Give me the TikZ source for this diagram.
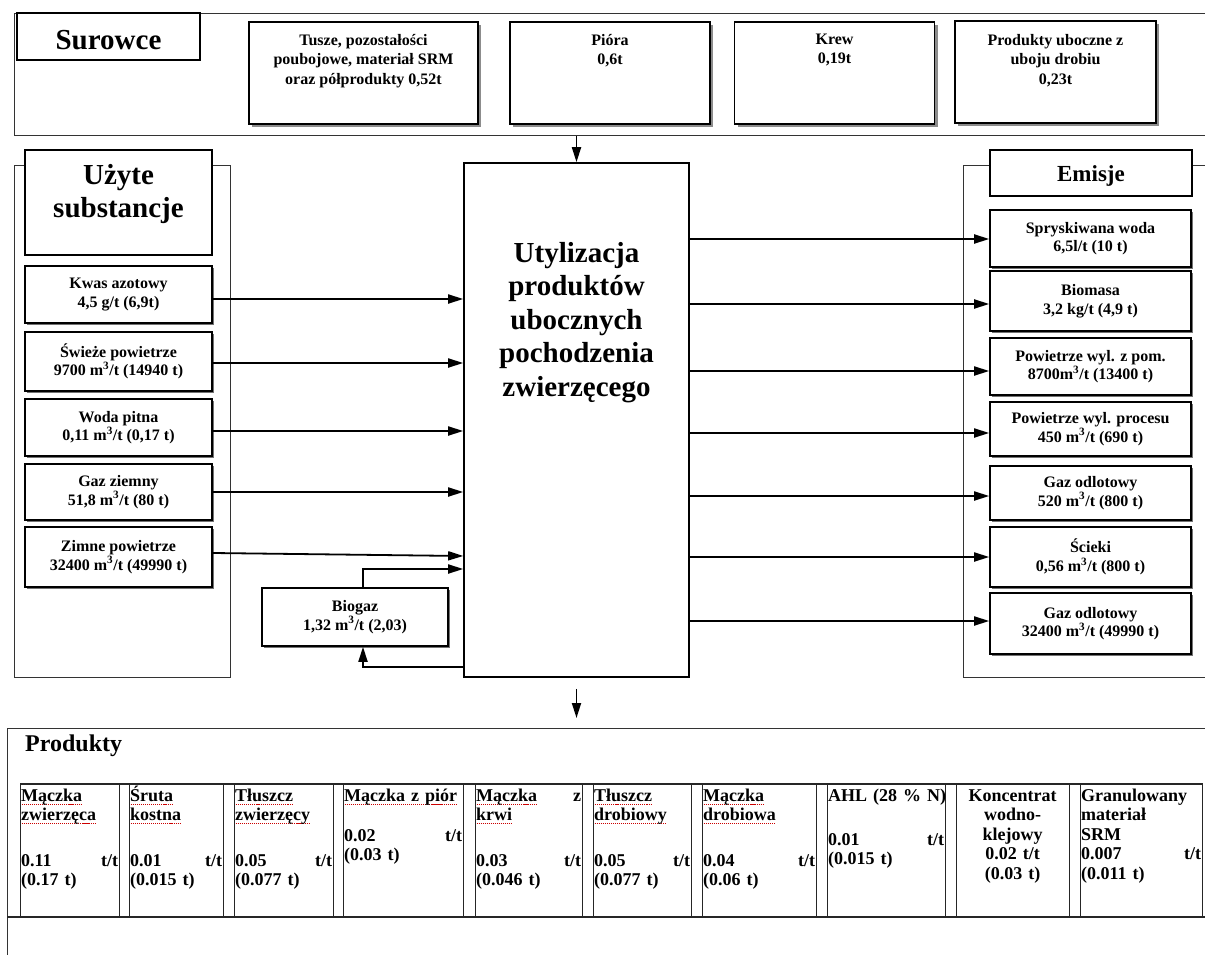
\documentclass[tikz,border=0pt]{standalone}
\usepackage{fontspec}
\setmainfont{Liberation Serif}
\usetikzlibrary{arrows.meta,shadows}

\newcommand\fs[2]{\fontsize{#1}{#2}\selectfont\bfseries}
% red dotted spell-check underline
\newsavebox\spellbox
\newcommand\spell[1]{\leavevmode\sbox\spellbox{#1}\rlap{\color{red!80!black}\raisebox{-3.5pt}{\hbox to\wd\spellbox{\xleaders\hbox to 2pt{\hss\rule{1.1pt}{1pt}\hss}\hfill}}}\usebox\spellbox}
\newcommand\msup{m\textsuperscript{3}}

\begin{document}
\begin{tikzpicture}[x=1pt,y=-1pt,
  panel/.style={draw=black!80,line width=1.4pt,inner sep=0pt},
  box/.style={draw=black,line width=1.6pt,fill=white,inner sep=0pt,align=center,font=\fs{16}{18.5}},
  sbox/.style={box,drop shadow={shadow xshift=1.5pt,shadow yshift=-1.5pt,fill=black!55,opacity=1}},
  topbox/.style={box,minimum height=102pt,drop shadow={shadow xshift=3pt,shadow yshift=-3pt,fill=black!45,opacity=1}},
  txt/.style={inner sep=0pt,align=center},
  arr/.style={line width=1.8pt,-{Triangle[length=15pt,width=9pt]}},
  cell/.style={draw=black!85,line width=1.2pt,inner sep=0pt,minimum height=133pt,anchor=north west},
  celltext/.style={inner sep=0pt,anchor=north west,align=left,font=\fs{18}{19.5},execute at begin node=\strut},
]
\useasboundingbox (0,0) rectangle (1205,955);
\fill[white] (0,0) rectangle (1205,955);

% ---------- raw materials band ----------
\node[panel,anchor=north west,minimum width=1220pt,minimum height=122pt] (band) at (14,13) {};
\node[box,minimum width=183pt,minimum height=47pt] (surowce) at (108.5,36.5) {};
\node[txt,anchor=base,font=\fs{29}{34}] (surowcet) at (surowce.center |- 0,50) {Surowce};

\node[topbox,minimum width=229pt] (tusze) at (363.5,73) {};
\node[txt,anchor=north,font=\fs{16}{19.5},execute at begin node=\strut] (tuszet) at ([yshift=-12.5pt]tusze.north)
  {Tusze, pozostałości\\poubojowe, materiał SRM\\oraz półprodukty 0,52t};
\node[topbox,minimum width=200pt] (piora) at (610,73) {};
\node[txt,anchor=north,font=\fs{16}{19.5},execute at begin node=\strut] (pi orat) at ([yshift=-12.5pt]piora.north) {Pióra\\0,6t};
\node[topbox,minimum width=200pt] (krew) at (834.5,73) {};
\node[txt,anchor=north,font=\fs{16}{19.5},execute at begin node=\strut] (krewt) at ([yshift=-12.5pt]krew.north) {Krew\\0,19t};
\node[topbox,minimum width=201pt] (drob) at (1055.5,72) {};
\node[txt,anchor=north,font=\fs{16}{19.5},execute at begin node=\strut] (drobt) at ([yshift=-13.5pt]drob.north)
  {Produkty uboczne z\\uboju drobiu\\0,23t};

% ---------- substances panel ----------
\node[panel,anchor=north west,minimum width=216pt,minimum height=512pt] (leftp) at (14,165) {};
\node[box,minimum width=187pt,minimum height=105pt] (uzyte) at (118.5,202.5) {};
\node[txt,anchor=north,font=\fs{29}{33},execute at begin node=\strut] (uzytet) at (uzyte.north |- 0,164) {Użyte\\substancje};

\node[sbox,minimum width=187pt,minimum height=57pt] (kwas) at (118.5,294.5) {Kwas azotowy\\4,5 g/t (6,9t)};
\node[sbox,minimum width=187pt,minimum height=59pt] (swieze) at (118.5,361.5) {Świeże powietrze\\9700 \msup/t (14940 t)};
\node[sbox,minimum width=187pt,minimum height=57pt] (woda) at (118.5,427.5) {Woda pitna\\0,11 \msup/t (0,17 t)};
\node[sbox,minimum width=187pt,minimum height=56pt] (gaz) at (118.5,492) {Gaz ziemny\\51,8 \msup/t (80 t)};
\node[sbox,minimum width=187pt,minimum height=60pt] (zimne) at (118.5,557) {Zimne powietrze\\32400 \msup/t (49990 t)};
\node[sbox,minimum width=186pt,minimum height=58pt] (biogaz) at (355,617) {Biogaz\\1,32 \msup/t (2,03)};

% ---------- process ----------
\node[box,minimum width=225pt,minimum height=514pt] (util) at (576.5,420) {};
\node[txt,anchor=north,font=\fs{29}{33.5},execute at begin node=\strut] (utilt) at (util.north |- 0,242)
  {Utylizacja\\produktów\\ubocznych\\pochodzenia\\zwierzęcego};

% ---------- emissions panel ----------
\node[panel,anchor=north west,minimum width=260pt,minimum height=512pt] (rightp) at (963,165) {};
\node[box,minimum width=202pt,minimum height=46pt] (emisje) at (1091,173) {};
\node[txt,anchor=base,font=\fs{23}{27}] (emisjet) at (emisje.center |- 0,182) {Emisje};

\node[sbox,minimum width=201pt,minimum height=57pt] (spry) at (1090.5,238.5) {Spryskiwana woda\\6,5l/t (10 t)};
\node[sbox,minimum width=201pt,minimum height=60pt] (biom) at (1090.5,301) {Biomasa\\3,2 kg/t (4,9 t)};
\node[sbox,minimum width=201pt,minimum height=57pt] (pzp) at (1090.5,366.5) {Powietrze wyl. z pom.\\8700\msup/t (13400 t)};
\node[sbox,minimum width=201pt,minimum height=54pt] (pwp) at (1090.5,429) {Powietrze wyl. procesu\\450 \msup/t (690 t)};
\node[sbox,minimum width=201pt,minimum height=54pt] (godla) at (1090.5,493) {Gaz odlotowy\\520 \msup/t (800 t)};
\node[sbox,minimum width=201pt,minimum height=60pt] (scieki) at (1090.5,557) {Ścieki\\0,56 \msup/t (800 t)};
\node[sbox,minimum width=201pt,minimum height=61pt] (godlb) at (1090.5,623.5) {Gaz odlotowy\\32400 \msup/t (49990 t)};

% ---------- flows ----------
\draw[arr] (util.north |- band.south) -- (util.north);
\draw[arr] (kwas.east |- 0,299) -- (util.west |- 0,299);
\draw[arr] (swieze.east |- 0,363) -- (util.west |- 0,363);
\draw[arr] (woda.east |- 0,431) -- (util.west |- 0,431);
\draw[arr] (gaz.east |- 0,492) -- (util.west |- 0,492);
\draw[arr] ([yshift=4pt]zimne.east) -- (util.west |- 0,556);
\draw[arr] ([xshift=8pt]biogaz.north) |- (util.west |- 0,569);
\draw[arr] (util.west |- 0,667) -| ([xshift=8pt]biogaz.south);

\draw[arr] (util.east |- 0,239) -- (spry.west |- 0,239);
\draw[arr] (util.east |- 0,304) -- (biom.west |- 0,304);
\draw[arr] (util.east |- 0,371) -- (pzp.west |- 0,371);
\draw[arr] (util.east |- 0,433) -- (pwp.west |- 0,433);
\draw[arr] (util.east |- 0,496) -- (godla.west |- 0,496);
\draw[arr] (util.east |- 0,557) -- (scieki.west |- 0,557);
\draw[arr] (util.east |- 0,621) -- (godlb.west |- 0,621);

% ---------- products table ----------
\node[panel,anchor=north west,minimum width=1225pt,minimum height=250pt] (frame) at (7,728) {};
\draw[arr] ([yshift=-11pt]util.south) -- ([yshift=10pt]util.south |- frame.north);
\draw[black!85,line width=1.2pt] (frame.west |- 0,917) -- (frame.east |- 0,917);
\node[txt,anchor=base west,font=\fs{24}{28}] (produkty) at (25,751) {Produkty};

\node[cell,minimum width=99pt]  (c1)  at (20,784) {};
\node[cell,minimum width=94pt]  (c2)  at (129,784) {};
\node[cell,minimum width=99pt]  (c3)  at (234,784) {};
\node[cell,minimum width=120pt] (c4)  at (343,784) {};
\node[cell,minimum width=107pt] (c5)  at (475,784) {};
\node[cell,minimum width=98pt]  (c6)  at (593,784) {};
\node[cell,minimum width=114pt] (c7)  at (702,784) {};
\node[cell,minimum width=118pt] (c8)  at (827,784) {};
\node[cell,minimum width=113pt] (c9)  at (956,784) {};
\node[cell,minimum width=122pt] (c10) at (1080,784) {};
\draw[black!85,line width=1.2pt] (c1.north west) -- (c10.north east);

\node[celltext,text width=97pt]  (t1) at ([xshift=1pt,yshift=-3.4pt]c1.north west)
  {\spell{Mączka}\\\spell{zwierzęca}\\[26pt]0.11\hfill t/t\\(0.17 t)};
\node[celltext,text width=92pt]  (t2) at ([xshift=1pt,yshift=-3.4pt]c2.north west)
  {\smash{\spell{Śruta}}\\\spell{kostna}\\[26pt]0.01\hfill t/t\\(0.015 t)};
\node[celltext,text width=97pt]  (t3) at ([xshift=1pt,yshift=-3.4pt]c3.north west)
  {\spell{Tłuszcz}\\\spell{zwierzęcy}\\[26pt]0.05\hfill t/t\\(0.077 t)};
\node[celltext,text width=118pt] (t4) at ([xshift=1pt,yshift=-3.4pt]c4.north west)
  {\spell{Mączka z piór}\\[20.5pt]0.02\hfill t/t\\(0.03 t)};
\node[celltext,text width=105pt] (t5) at ([xshift=1pt,yshift=-3.4pt]c5.north west)
  {\spell{Mączka}\hfill z\\\spell{krwi}\\[26pt]0.03\hfill t/t\\(0.046 t)};
\node[celltext,text width=96pt]  (t6) at ([xshift=1pt,yshift=-3.4pt]c6.north west)
  {\spell{Tłuszcz}\\\spell{drobiowy}\\[26pt]0.05\hfill t/t\\(0.077 t)};
\node[celltext,text width=112pt] (t7) at ([xshift=1pt,yshift=-3.4pt]c7.north west)
  {\spell{Mączka}\\\spell{drobiowa}\\[26pt]0.04\hfill t/t\\(0.06 t)};
\node[celltext,text width=116pt] (t8) at ([xshift=1pt,yshift=-3.4pt]c8.north west)
  {\mbox{AHL (28 \% N)}\\[24.5pt]0.01\hfill t/t\\(0.015 t)};
\node[celltext,text width=111pt,align=center] (t9) at ([xshift=1pt,yshift=-3.4pt]c9.north west)
  {Koncentrat\\wodno-\\klejowy\\0.02 t/t\\(0.03 t)};
\node[celltext,text width=120pt] (t10) at ([xshift=1pt,yshift=-3.4pt]c10.north west)
  {Granulowany\\materiał\\SRM\\0.007\hfill t/t\\(0.011 t)};
\end{tikzpicture}
\end{document}
